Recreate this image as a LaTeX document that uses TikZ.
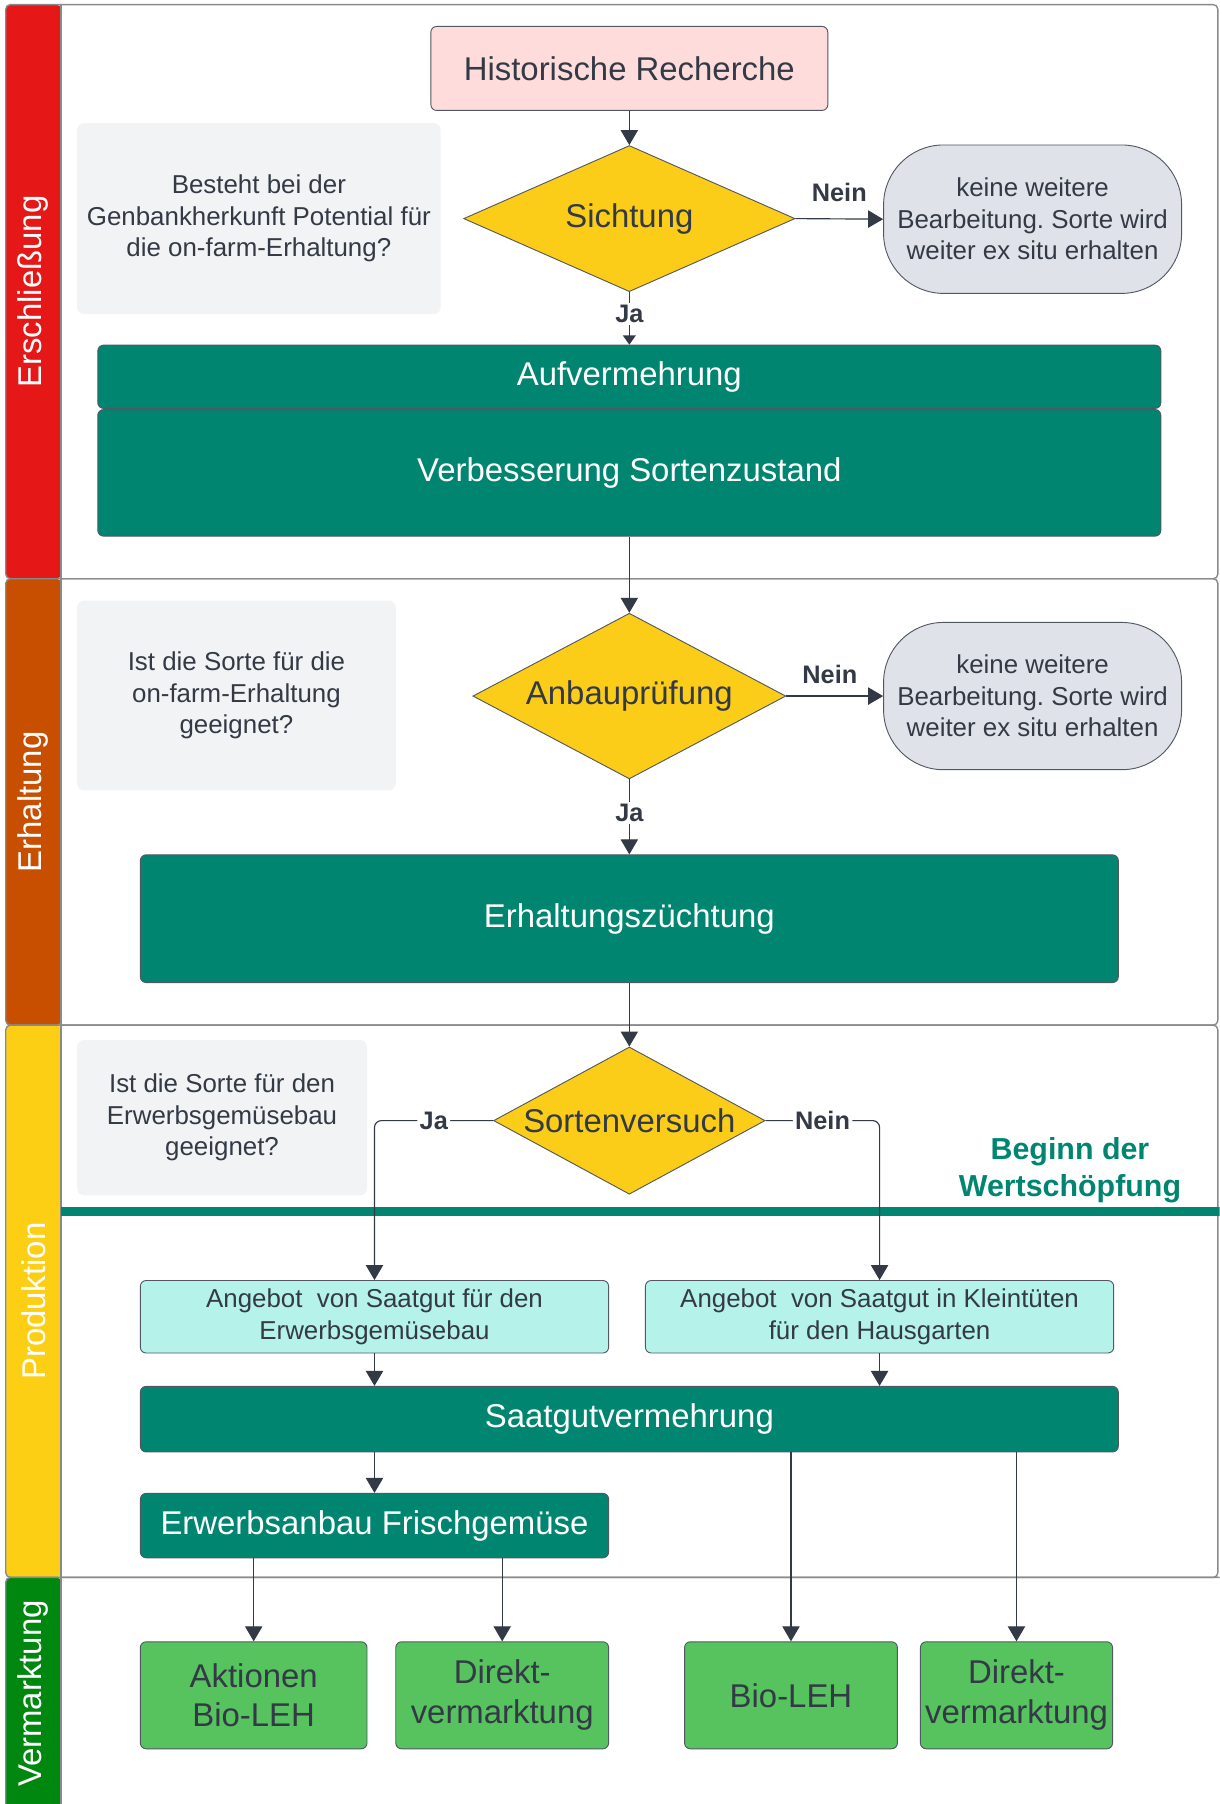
\documentclass[tikz,border=0pt]{standalone}
\usepackage{fontspec}
\setmainfont{Liberation Sans}
\usetikzlibrary{shapes.geometric,arrows.meta}
\frenchspacing

\definecolor{laneRed}{HTML}{E61717}
\definecolor{laneOrange}{HTML}{C84E00}
\definecolor{laneYellow}{HTML}{FCCE14}
\definecolor{laneGreen}{HTML}{00870F}
\definecolor{boxTeal}{HTML}{008570}
\definecolor{boxPink}{HTML}{FFDCDC}
\definecolor{noteGrey}{HTML}{F1F3F5}
\definecolor{termGrey}{HTML}{DFE2E8}
\definecolor{decYellow}{HTML}{FBCD19}
\definecolor{offerCyan}{HTML}{B5F2EA}
\definecolor{marketGreen}{HTML}{56C35E}
\definecolor{ink}{HTML}{333A45}
\definecolor{frame}{HTML}{8A8A8A}

\newcommand{\fsbig}{\fontsize{14.3}{17.3}\selectfont}
\newcommand{\fsmid}{\fontsize{11.25}{13.7}\selectfont}

\begin{document}
\begin{tikzpicture}[x=0.5pt, y=-0.5pt,
	lane/.style={draw=frame, line width=0.6pt, rounded corners=2pt},
	lanetitle/.style={rotate=90, text=white, font=\fsbig},
	box/.style={draw=ink!85, line width=0.4pt, rounded corners=2.5pt, align=center, inner sep=1pt},
	work/.style={box, fill=boxTeal, text=white, font=\fsbig},
	note/.style={fill=noteGrey, rounded corners=3pt, align=center, text=ink, font=\fsmid},
	decision/.style={diamond, draw=ink!85, line width=0.4pt, fill=decYellow, inner sep=0pt},
	endbox/.style={box, fill=termGrey, rounded corners=26pt, text=ink, font=\fsmid},
	offer/.style={box, fill=offerCyan, text=ink, font=\fsmid},
	market/.style={box, fill=marketGreen, text=ink, font=\fsbig},
	flow/.style={draw=ink, line width=0.5pt, -{Triangle[length=6.5pt,width=7.5pt]}},
	answer/.style={font=\bfseries\fontsize{11}{13}\selectfont, text=ink, inner sep=1pt}]
	\useasboundingbox (0,0) rectangle (1060,1568);
	\clip (0,0) rectangle (1060,1568);

	% lanes
	\fill[laneRed, rounded corners=2pt] (5,4) rectangle (53,503);
	\draw[lane] (5,4) rectangle (1058.5,503);
	\draw[frame, line width=0.6pt] (53,4)--(53,503);
	\fill[laneOrange, rounded corners=2pt] (5,503) rectangle (53,891);
	\draw[lane] (5,503) rectangle (1058.5,891);
	\draw[frame, line width=0.6pt] (53,503)--(53,891);
	\fill[laneYellow, rounded corners=2pt] (5,891) rectangle (53,1371);
	\draw[lane] (5,891) rectangle (1058.5,1371);
	\draw[frame, line width=0.6pt] (53,891)--(53,1371);
	\fill[laneGreen, rounded corners=2pt] (5,1371) rectangle (53,1600);
	\draw[lane] (5,1371) rectangle (1090,1600);
	\draw[frame, line width=0.6pt] (53,1371)--(53,1600);

	\node[lanetitle] (l1) at (29,253.5) {Erschließung};
	\node[lanetitle] (l2) at (29,697) {Erhaltung};
	\node[lanetitle] (l3) at (29,1131) {Produktion};
	\node[lanetitle] (l4) at (29,1472) {Vermarktung};

	\draw[boxTeal, line width=4pt] (53,1053)--(1062,1053);
	\node[font=\bfseries\fontsize{13.2}{16}\selectfont, text=boxTeal, align=center] (wert) at (930,1017) {Beginn der\\Wertschöpfung};

	% Erschliessung
	\node[box, fill=boxPink, text=ink, font=\fsbig, minimum width=172.5pt, minimum height=36.5pt] (hist) at (547,59.5) {Historische Recherche};
	\node[note, minimum width=158pt, minimum height=83pt] (note1) at (225,190) {Besteht bei der\\Genbankherkunft Potential für\\die on-farm-Erhaltung?};
	\node[decision, minimum width=144pt, minimum height=63.5pt, label={[text=ink, font=\fsbig]center:Sichtung}] (sicht) at (547,190) {};
	\node[endbox, minimum width=129.5pt, minimum height=64.5pt] (term1) at (897.5,190.5) {keine weitere\\Bearbeitung. Sorte wird\\weiter ex situ erhalten};
	\node[work, minimum width=462pt, minimum height=27.5pt] (auf) at (547,327.5) {Aufvermehrung};
	\node[work, minimum width=462pt, minimum height=55pt] (verb) at (547,411) {Verbesserung Sortenzustand};

	% Erhaltung
	\node[note, minimum width=138.5pt, minimum height=82.5pt] (note2) at (205.5,604.5) {Ist die Sorte für die\\on-farm-Erhaltung\\geeignet?};
	\node[decision, minimum width=136pt, minimum height=72pt, label={[text=ink, font=\fsbig]center:Anbauprüfung}] (anbau) at (547,605) {};
	\node[endbox, minimum width=129.5pt, minimum height=64pt] (term2) at (897.5,605) {keine weitere\\Bearbeitung. Sorte wird\\weiter ex situ erhalten};
	\node[work, minimum width=425pt, minimum height=55.5pt] (erh) at (547,798.5) {Erhaltungszüchtung};

	% Produktion
	\node[note, minimum width=126pt, minimum height=67.5pt] (note3) at (193,971.5) {Ist die Sorte für den\\Erwerbsgemüsebau\\geeignet?};
	\node[decision, minimum width=118pt, minimum height=64pt, label={[text=ink, font=\fsbig]center:Sortenversuch}] (sorten) at (547,974) {};
	\node[offer, minimum width=203.5pt, minimum height=31.5pt] (ang1) at (325.5,1144.5) {Angebot~ von Saatgut für den\\Erwerbsgemüsebau};
	\node[offer, minimum width=203.5pt, minimum height=31.5pt] (ang2) at (764.5,1144.5) {Angebot~ von Saatgut in Kleintüten\\für den Hausgarten};
	\node[work, minimum width=425pt, minimum height=28.5pt] (saat) at (547,1233.5) {Saatgutvermehrung};
	\node[work, minimum width=203.5pt, minimum height=28pt] (erw) at (325.5,1326) {Erwerbsanbau Frischgemüse};

	% Vermarktung
	\node[market, minimum width=98.5pt, minimum height=46.5pt] (akt) at (220.5,1473.5) {Aktionen\\Bio-LEH};
	\node[market, minimum width=92.5pt, minimum height=46.5pt] (dir1) at (436.5,1473.5) {Direkt-\\vermarktung};
	\node[market, minimum width=92.5pt, minimum height=46.5pt] (bio) at (687.5,1473.5) {Bio-LEH};
	\node[market, minimum width=83.5pt, minimum height=46.5pt] (dir2) at (883.5,1473.5) {Direkt-\\vermarktung};

	% connectors
	\draw[flow] (hist.south)--(sicht.north);
	\draw[flow] (sicht.east)-- node[answer, above=6pt]{Nein} (term1.west);
	\draw[flow, -{Triangle[length=4pt,width=5.5pt]}] (sicht.south)-- node[answer, fill=white, pos=0.42]{Ja} (auf.north);
	\draw[flow] (verb.south)--(anbau.north);
	\draw[flow] (anbau.east)-- node[answer, above=4pt, pos=0.45]{Nein} (term2.west);
	\draw[flow] (anbau.south)-- node[answer, fill=white, pos=0.45]{Ja} (erh.north);
	\draw[flow] (erh.south)--(sorten.north);
	\draw[flow, rounded corners=3pt] (sorten.west) -| node[answer, fill=white, pos=0.25]{Ja} (ang1.north);
	\draw[flow, rounded corners=3pt] (sorten.east) -| node[answer, fill=white, pos=0.25]{Nein} (ang2.north);
	\draw[flow] (ang1.south)--(ang1.south |- saat.north);
	\draw[flow] (ang2.south)--(ang2.south |- saat.north);
	\draw[flow] (erw.north |- saat.south)--(erw.north);
	\draw[flow] (akt.north |- erw.south)--(akt.north);
	\draw[flow] (dir1.north |- erw.south)--(dir1.north);
	\draw[flow] (bio.north |- saat.south)--(bio.north);
	\draw[flow] (dir2.north |- saat.south)--(dir2.north);
\end{tikzpicture}
\end{document}
